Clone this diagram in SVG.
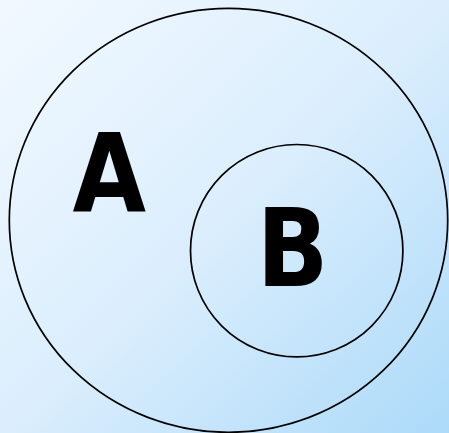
<svg xmlns="http://www.w3.org/2000/svg" width="449" height="433" viewBox="0 0 449 433">
<defs>
<linearGradient id="bg" x1="0" y1="0" x2="1" y2="1">
<stop offset="0" stop-color="#f2f9ff"/>
<stop offset="0.5" stop-color="#dbeefd"/>
<stop offset="1" stop-color="#acdaf9"/>
</linearGradient>
</defs>
<style>
.set{fill:none;stroke:#000;stroke-width:1.7}
.lbl{font-family:"DejaVu Sans",Verdana,sans-serif;font-weight:bold;font-size:108px;fill:#000;text-anchor:middle}
</style>
<rect width="449" height="433" fill="url(#bg)"/>
<g id="setA">
<ellipse class="set" cx="228.5" cy="220.3" rx="219.2" ry="212"/>
<text class="lbl" transform="translate(109.2,210.7) scale(0.88,1)">A</text>
</g>
<g id="setB">
<circle class="set" cx="296.7" cy="250.7" r="106.2"/>
<text class="lbl" transform="translate(292.5,286) scale(0.87,1)">B</text>
</g>
<g id="connectors"/>
</svg>
